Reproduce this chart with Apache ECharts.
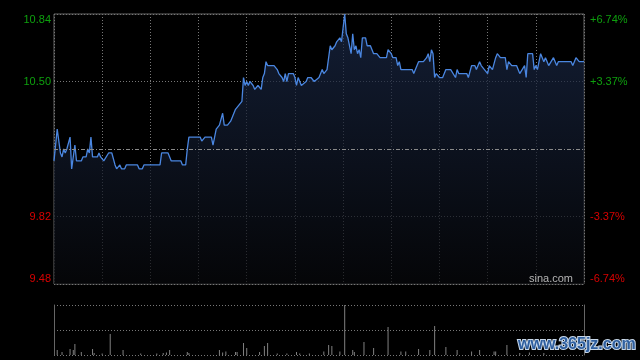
<!DOCTYPE html>
<html><head><meta charset="utf-8">
<script src="https://cdn.jsdelivr.net/npm/echarts@6/dist/echarts.min.js"></script>
<style>html,body{margin:0;padding:0;background:#000}#c{width:640px;height:360px}</style>
</head><body><div id="c"></div>
<script>
// Trading minutes since 09:30 (HK session, lunch break removed) and last price
const priceMinutes = [0,2,4,5,6,7,8,10,11,13,14,17,18,20,21,22,23,24,27,28,29,31,32,34,36,38,39,40,41,42,44,45,52,53,55,56,66,67,71,73,79,80,82,83,84,91,92,94,98,99,100,101,103,104,105,106,108,110,111,113,115,116,117,118,119,120,121,122,124,125,126,127,128,129,130,131,132,133,137,139,140,141,142,143,144,145,146,149,150,151,152,153,154,155,157,158,160,162,163,165,166,167,168,170,171,172,173,175,176,178,179,181,182,183,184,185,186,187,188,189,190,191,192,194,195,197,199,201,203,207,208,209,210,211,213,214,215,216,223,224,225,227,230,232,233,234,235,236,237,238,239,240,242,244,247,250,251,252,257,258,260,262,263,264,265,266,268,269,270,271,273,275,276,277,278,281,282,283,285,288,290,291,293,294,295,298,299,300,301,303,305,306,308,311,313,314,322,323,324,325,327,330];
const prices = [10.10,10.26,10.14,10.12,10.16,10.14,10.16,10.22,10.06,10.18,10.10,10.10,10.12,10.12,10.16,10.14,10.22,10.12,10.12,10.14,10.12,10.10,10.10,10.14,10.14,10.08,10.06,10.06,10.08,10.06,10.06,10.08,10.08,10.06,10.06,10.08,10.08,10.14,10.14,10.10,10.10,10.08,10.08,10.16,10.22,10.22,10.20,10.22,10.22,10.18,10.18,10.26,10.28,10.28,10.34,10.28,10.28,10.30,10.30,10.36,10.38,10.38,10.40,10.52,10.48,10.50,10.48,10.50,10.48,10.46,10.46,10.48,10.48,10.46,10.52,10.54,10.60,10.58,10.58,10.56,10.54,10.54,10.52,10.50,10.54,10.50,10.54,10.54,10.52,10.48,10.52,10.50,10.48,10.48,10.50,10.52,10.52,10.50,10.50,10.52,10.52,10.56,10.54,10.56,10.62,10.68,10.66,10.68,10.70,10.72,10.70,10.84,10.74,10.72,10.72,10.64,10.74,10.66,10.68,10.64,10.66,10.62,10.72,10.72,10.68,10.68,10.64,10.64,10.62,10.62,10.66,10.66,10.64,10.62,10.62,10.58,10.60,10.56,10.56,10.54,10.54,10.60,10.60,10.62,10.64,10.60,10.66,10.64,10.52,10.54,10.54,10.52,10.52,10.56,10.56,10.52,10.56,10.54,10.54,10.52,10.58,10.58,10.56,10.56,10.60,10.58,10.56,10.56,10.54,10.58,10.56,10.62,10.64,10.64,10.62,10.62,10.56,10.60,10.58,10.58,10.54,10.54,10.58,10.52,10.64,10.64,10.56,10.58,10.56,10.64,10.60,10.62,10.58,10.62,10.58,10.60,10.60,10.58,10.60,10.62,10.60,10.60];
// Volume bars (minute, relative volume)
const volMinutes = [2,5,10,12,13,17,24,25,30,35,43,54,64,68,70,72,83,84,103,105,107,113,114,118,120,128,131,133,139,145,151,153,159,168,171,173,178,181,186,187,193,199,208,216,219,227,234,237,244,251,260,265,274,275,282,290,296,305];
const volumes = [10,6,12,10,22,6,12,4,3,42,10,3,3,4,5,10,6,4,10,5,7,6,6,24,14,6,18,24,3,3,6,3,3,7,20,18,7,100,10,6,26,14,56,7,7,12,10,58,16,10,7,10,7,7,20,4,5,4];
const prevClose = 10.16;
const priceTicks = [9.48, 9.82, 10.50, 10.84];
const pctMin = -6.74, pctMax = 6.74, pctStep = 3.37;

const lineData = priceMinutes.map((m, i) => [m, prices[i]]);
const volData = volMinutes.map((m, i) => [m, volumes[i]]);
const GREEN = '#0ea00e', RED = '#d80000', GRID = '#777', BORDER = '#666';

const chart = echarts.init(document.getElementById('c'), null, {renderer: 'canvas'});
chart.setOption({
  backgroundColor: '#000',
  animation: false,
  grid: [
    {left: 54, top: 14, width: 530, height: 270, show: true, borderColor: BORDER, borderWidth: 1, backgroundColor: 'transparent'},
    {left: 54, top: 305, width: 530, height: 50}
  ],
  xAxis: [
    {type: 'value', gridIndex: 0, min: 0, max: 330, interval: 30,
     axisLine: {show: false}, axisTick: {show: false}, axisLabel: {show: false},
     splitLine: {show: true, lineStyle: {color: GRID, type: [1, 2], width: 1}}},
    {type: 'value', gridIndex: 1, min: 0, max: 330,
     axisLine: {show: false}, axisTick: {show: false}, axisLabel: {show: false}, splitLine: {show: false}}
  ],
  yAxis: [
    {type: 'value', gridIndex: 0, min: 9.48, max: 10.84, position: 'left',
     axisLine: {show: false}, axisTick: {show: false}, splitLine: {show: false},
     axisLabel: {show: true, customValues: priceTicks, margin: 3, fontSize: 11, fontFamily: 'Liberation Sans, Arial, sans-serif',
       formatter: v => v.toFixed(2),
       color: v => (Number(v) > prevClose ? GREEN : RED),
       verticalAlignMinLabel: 'bottom', verticalAlignMaxLabel: 'top'}},
    {type: 'value', gridIndex: 0, min: pctMin, max: pctMax, interval: pctStep, position: 'right',
     axisLine: {show: false}, axisTick: {show: false},
     splitLine: {show: true, lineStyle: {color: [GRID, GRID, 'rgba(0,0,0,0)', GRID, GRID], type: [1, 2], width: 1}},
     axisLabel: {show: true, margin: 6, fontSize: 11, fontFamily: 'Liberation Sans, Arial, sans-serif',
       formatter: v => Math.abs(v) < 0.001 ? '' : (v > 0 ? '+' : '') + Number(v).toFixed(2) + '%',
       color: v => (Number(v) > 0 ? GREEN : RED),
       verticalAlignMinLabel: 'bottom', verticalAlignMaxLabel: 'top'}},
    {type: 'value', gridIndex: 1, min: 0, max: 100, interval: 50, position: 'left',
     axisLine: {show: true, lineStyle: {color: BORDER}}, axisTick: {show: false}, axisLabel: {show: false},
     splitLine: {show: true, lineStyle: {color: GRID, type: [1, 2], width: 1}}},
    {type: 'value', gridIndex: 1, min: 0, max: 100, position: 'right',
     axisLine: {show: true, lineStyle: {color: BORDER}}, axisTick: {show: false}, axisLabel: {show: false}, splitLine: {show: false}}
  ],
  series: [
    {type: 'line', xAxisIndex: 0, yAxisIndex: 0, data: lineData, showSymbol: false, silent: true,
     lineStyle: {color: '#4a86e0', width: 1.3},
     areaStyle: {origin: 'start', color: new echarts.graphic.LinearGradient(0, 0, 0, 1, [
       {offset: 0, color: '#1b2a4a'}, {offset: 1, color: '#07080b'}])},
     markLine: {silent: true, symbol: 'none', label: {show: false},
       lineStyle: {color: '#8a8a8a', type: [4, 2, 1, 2], width: 1},
       data: [{yAxis: prevClose}]}},
    {type: 'bar', xAxisIndex: 1, yAxisIndex: 2, data: volData, barWidth: 1, silent: true,
     itemStyle: {color: '#808080'}}
  ],
  graphic: [
    {type: 'text', right: 67, top: 273, z: 100, style: {text: 'sina.com', fill: '#b4b4b4', font: '11px Liberation Sans, Arial, sans-serif'}},
    {type: 'text', left: 517, top: 336, z: 100, style: {text: 'www.365jz.com', fill: '#2f5f9f', stroke: '#c8d8ea', lineWidth: 2,
      font: 'bold 16px Liberation Sans, Arial, sans-serif'}}
  ]
});
</script></body></html>
